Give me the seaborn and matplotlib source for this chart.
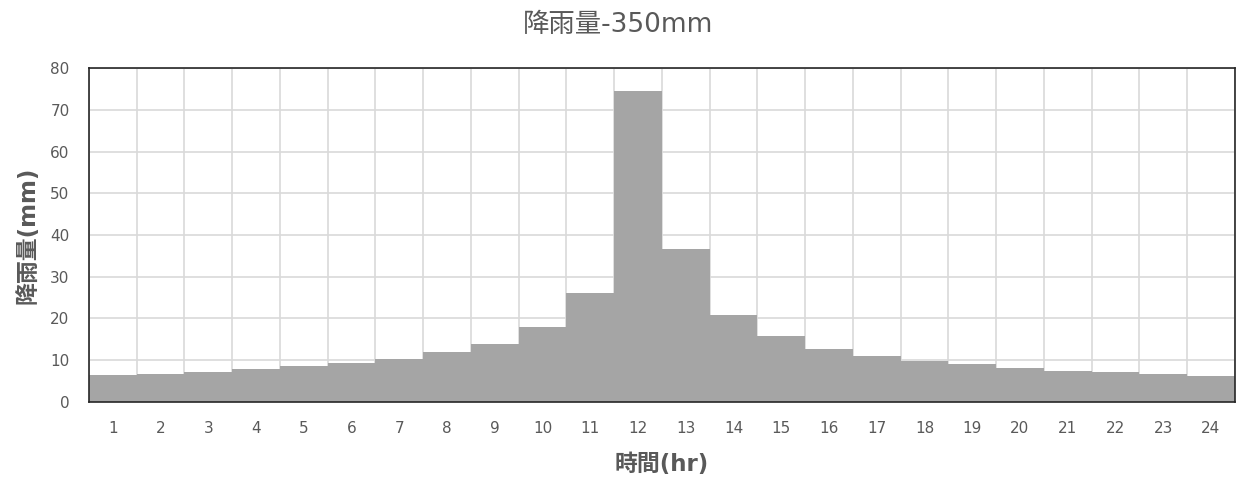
import numpy as np
import pandas as pd
import matplotlib
matplotlib.use("Agg")
import matplotlib.pyplot as plt
from matplotlib.ticker import FixedLocator, MultipleLocator
import seaborn as sns

# Hourly rainfall distribution (mm) for a 350 mm design storm
hours = [str(h) for h in range(1, 25)]
rainfall = [6.4, 6.8, 7.1, 7.8, 8.6, 9.4, 10.4, 11.9, 13.8, 17.9, 26.0, 74.6,
            36.7, 20.8, 15.7, 12.6, 10.9, 9.8, 9.0, 8.2, 7.5, 7.1, 6.8, 6.3]

title = "降雨量-350mm"
xlabel = "時間(hr)"
ylabel = "降雨量(mm)"

sns.set_theme(style="white")
# Latin glyphs from DejaVu Sans, CJK glyphs fall through to Noto Sans CJK TC
plt.rcParams["font.family"] = ["DejaVu Sans", "Noto Sans CJK TC"]

df = pd.DataFrame({"hour": hours, "rain": rainfall})

fig = plt.figure(figsize=(12.36, 4.86), dpi=100)
ax = fig.add_axes([0.072, 0.173, 0.927, 0.687])

sns.barplot(data=df, x="hour", y="rain", color="#a5a5a5", saturation=1,
            width=1.0, edgecolor="none", linewidth=0, ax=ax, zorder=2)

ax.set_ylim(0, 80)
ax.set_xlim(-0.5, len(hours) - 0.5)
ax.yaxis.set_major_locator(MultipleLocator(10))
ax.xaxis.set_minor_locator(FixedLocator(np.arange(-0.5, len(hours), 1.0)))

ax.grid(axis="y", which="major", color="#d9d9d9", linewidth=1.2, zorder=0)
ax.grid(axis="x", which="minor", color="#d9d9d9", linewidth=1.2, zorder=0)
ax.grid(axis="x", which="major", visible=False)
ax.set_axisbelow(True)

for side in ["left", "right", "top", "bottom"]:
    ax.spines[side].set_visible(True)
    ax.spines[side].set_color("#262626")
    ax.spines[side].set_linewidth(1.2)

ax.tick_params(axis="both", which="both", length=0, colors="#595959", labelsize=11)
ax.tick_params(axis="x", pad=14)
ax.tick_params(axis="y", pad=14)

ax.set_xlabel(xlabel, fontsize=16.5, fontweight="bold", color="#595959", labelpad=12)
ax.set_ylabel(ylabel, fontsize=16.5, fontweight="bold", color="#595959", labelpad=8)

fig.suptitle(title, fontsize=19, color="#595959", y=0.975, va="top")

fig.savefig("out.png", dpi=100, facecolor="white")
